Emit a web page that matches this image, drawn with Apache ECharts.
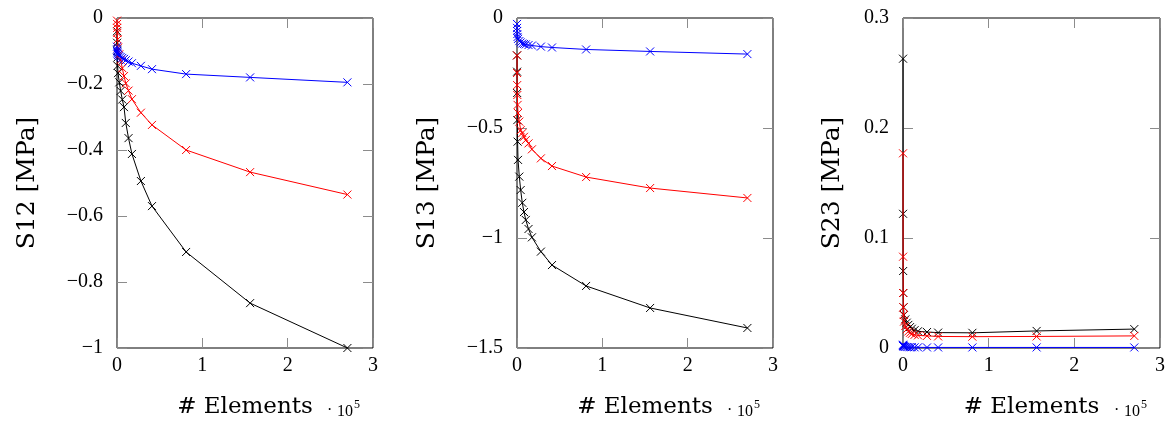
<!DOCTYPE html>
<html>
<head>
<meta charset="utf-8">
<script src="https://cdn.jsdelivr.net/npm/echarts@6/dist/echarts.min.js"></script>
<style>
html,body{margin:0;padding:0;background:#fff;}
#chart{width:1173px;height:427px;}
</style>
</head>
<body>
<div id="chart"></div>
<script>
// Number of elements (in units of 10^5)
const xVals = [0.0005, 0.001, 0.002, 0.004, 0.007, 0.012, 0.027, 0.043, 0.062, 0.082, 0.103, 0.135, 0.175, 0.28, 0.41, 0.81, 1.56, 2.7];

// S12 [MPa]
const s12Black = [-0.04, -0.075, -0.1, -0.12, -0.145, -0.167, -0.195, -0.221, -0.247, -0.27, -0.318, -0.364, -0.412, -0.494, -0.570, -0.709, -0.864, -1.0];
const s12Red   = [-0.008, -0.018, -0.03, -0.045, -0.065, -0.09, -0.11, -0.127, -0.152, -0.176, -0.198, -0.22, -0.246, -0.287, -0.324, -0.4, -0.467, -0.535];
const s12Blue  = [-0.087, -0.095, -0.1, -0.104, -0.108, -0.112, -0.115, -0.118, -0.121, -0.124, -0.128, -0.132, -0.137, -0.145, -0.155, -0.17, -0.18, -0.195];

// S13 [MPa]
const s13Black = [-0.17, -0.244, -0.341, -0.464, -0.562, -0.645, -0.721, -0.782, -0.84, -0.882, -0.918, -0.959, -0.997, -1.062, -1.123, -1.218, -1.318, -1.409];
const s13Red   = [-0.17, -0.25, -0.305, -0.35, -0.395, -0.432, -0.471, -0.51, -0.523, -0.54, -0.555, -0.57, -0.597, -0.638, -0.673, -0.723, -0.773, -0.818];
const s13Blue  = [-0.027, -0.045, -0.059, -0.073, -0.086, -0.095, -0.105, -0.111, -0.116, -0.118, -0.12, -0.123, -0.125, -0.13, -0.134, -0.143, -0.152, -0.164];

// S23 [MPa]
const s23Black = [0.263, 0.122, 0.07, 0.05, 0.037, 0.03, 0.026, 0.023, 0.021, 0.019, 0.0175, 0.0162, 0.0152, 0.0145, 0.014, 0.0138, 0.0155, 0.0172];
const s23Red   = [0.177, 0.083, 0.05, 0.037, 0.03, 0.024, 0.02, 0.017, 0.015, 0.0138, 0.0128, 0.012, 0.0115, 0.011, 0.0105, 0.0103, 0.0105, 0.011];
const s23Blue  = [0.003, 0.0025, 0.002, 0.0018, 0.0015, 0.0012, 0.001, 0.0009, 0.0008, 0.0007, 0.0007, 0.0006, 0.0006, 0.0005, 0.0005, 0.0005, 0.0005, 0.0005];

const xTicks = {min: 0, max: 3, interval: 1};
const panels = [
  {name: 'S12 [MPa]', min: -1, max: 0, interval: 0.2, series: [s12Black, s12Red, s12Blue]},
  {name: 'S13 [MPa]', min: -1.5, max: 0, interval: 0.5, series: [s13Black, s13Red, s13Blue]},
  {name: 'S23 [MPa]', min: 0, max: 0.3, interval: 0.1, series: [s23Black, s23Red, s23Blue]}
];
const colors = ['#000000', '#ff0000', '#0000ff'];

const FONT = 'Liberation Serif';
const NAMEFONT = 'DejaVu Serif';
const grids = [
  {left: 117, top: 18, width: 256, height: 330},
  {left: 517, top: 18, width: 256, height: 330},
  {left: 903, top: 18, width: 257, height: 330}
];
const nameGaps = [77, 77, 58];

function fmt(v) {
  const r = Math.round(v * 1000) / 1000;
  if (r < 0) return '\u2212' + String(-r);
  return String(r);
}

function tick() {
  return {show: true, inside: true, length: 10, lineStyle: {color: '#8c8c8c', width: 1}};
}
const xAxes = [], yAxes = [], series = [], graphics = [];
grids.forEach((g, i) => {
  g.show = true; g.borderColor = '#000'; g.borderWidth = 1; g.containLabel = false;
  xAxes.push({
    gridIndex: i, type: 'value', position: 'bottom', min: xTicks.min, max: xTicks.max, interval: xTicks.interval,
    axisLine: {show: false, onZero: false}, axisTick: tick(), splitLine: {show: false},
    axisLabel: {color: '#000', fontFamily: FONT, fontSize: 20, margin: 8, formatter: fmt},
    name: '# Elements', nameLocation: 'middle', nameGap: 48,
    nameTextStyle: {color: '#000', fontFamily: NAMEFONT, fontSize: 23}
  });
  xAxes.push({
    gridIndex: i, type: 'value', position: 'top', min: xTicks.min, max: xTicks.max, interval: xTicks.interval,
    axisLine: {show: false, onZero: false}, axisTick: tick(), splitLine: {show: false}, axisLabel: {show: false}
  });
  const p = panels[i];
  yAxes.push({
    gridIndex: i, type: 'value', position: 'left', min: p.min, max: p.max, interval: p.interval,
    axisLine: {show: false, onZero: false}, axisTick: tick(), splitLine: {show: false},
    axisLabel: {color: '#000', fontFamily: FONT, fontSize: 20, margin: 14, formatter: fmt},
    name: p.name, nameLocation: 'middle', nameGap: nameGaps[i], nameRotate: 90,
    nameTextStyle: {color: '#000', fontFamily: NAMEFONT, fontSize: 25}
  });
  yAxes.push({
    gridIndex: i, type: 'value', position: 'right', min: p.min, max: p.max, interval: p.interval,
    axisLine: {show: false, onZero: false}, axisTick: tick(), splitLine: {show: false}, axisLabel: {show: false}
  });
  p.series.forEach((arr, k) => {
    series.push({
      type: 'line', xAxisIndex: 2 * i, yAxisIndex: 2 * i, clip: false,
      data: xVals.map((x, j) => [x, arr[j]]),
      symbol: 'path://M0,0L10,10M10,0L0,10', symbolSize: 8,
      lineStyle: {color: colors[k], width: 1},
      itemStyle: {color: colors[k], borderColor: colors[k], borderWidth: 1},
      emphasis: {disabled: true}, animation: false, z: 2 + k
    });
  });
  const r = g.left + g.width;
  graphics.push({
    type: 'text', left: r - 46, top: 403,
    style: {text: '\u00b7', font: '16px "' + FONT + '"', fill: '#000'}
  });
  graphics.push({
    type: 'text', left: r - 36, top: 404,
    style: {text: '10', font: '16px "' + FONT + '"', fill: '#000'}
  });
  graphics.push({
    type: 'text', left: r - 19, top: 399,
    style: {text: '5', font: '12px "' + FONT + '"', fill: '#000'}
  });
});

const chart = echarts.init(document.getElementById('chart'), null, {renderer: 'canvas'});
chart.setOption({
  animation: false,
  backgroundColor: '#fff',
  grid: grids, xAxis: xAxes, yAxis: yAxes, series: series, graphic: graphics
});
</script>
</body>
</html>
